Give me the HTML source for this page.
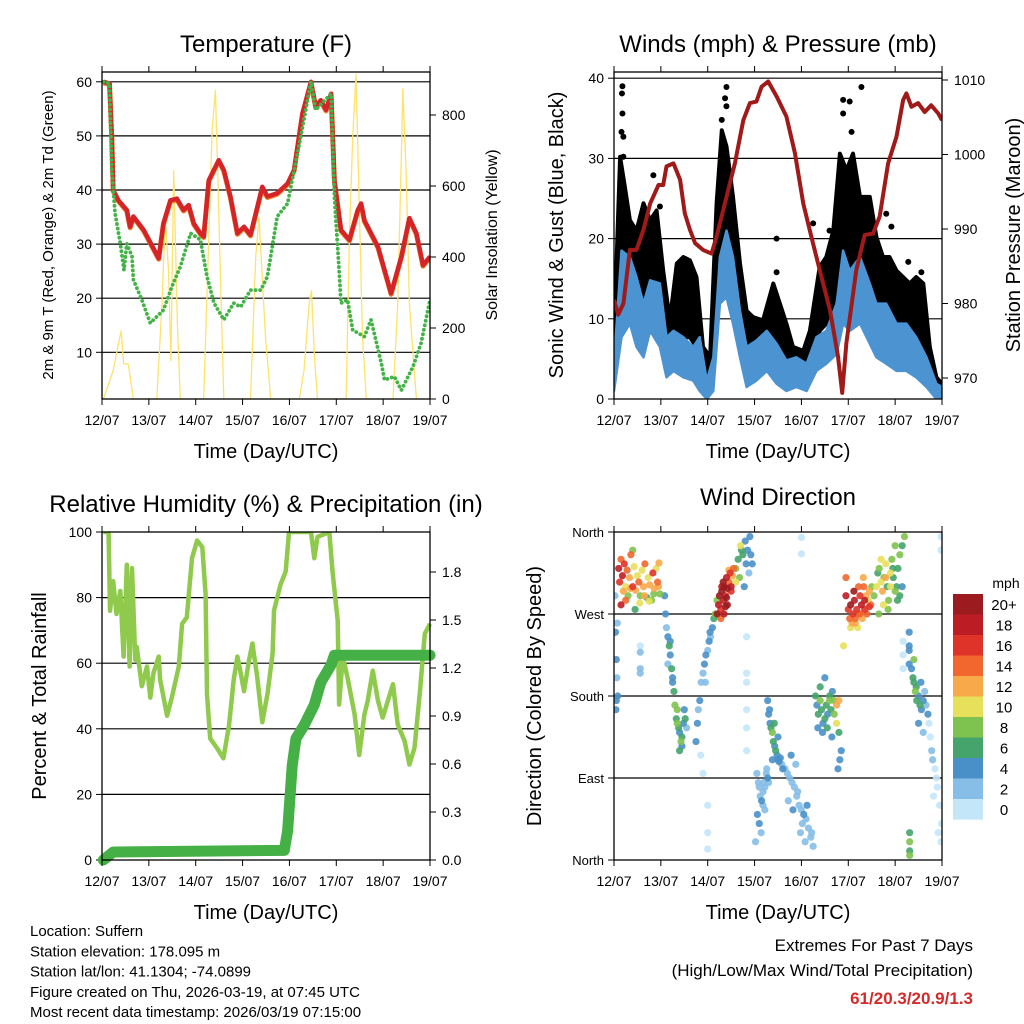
<!DOCTYPE html>
<html><head><meta charset="utf-8">
<style>
html,body{margin:0;padding:0;background:#fff;}
svg{display:block;font-family:"Liberation Sans",Arial,sans-serif;}
</style></head>
<body>
<svg id="fig" width="1024" height="1024" viewBox="0 0 1024 1024" xmlns="http://www.w3.org/2000/svg">
<rect width="1024" height="1024" fill="#fff"/>
<g id="layer"></g>
</svg>
<script>
// ---------- Data ----------
const dayLabels = ["12/07","13/07","14/07","15/07","16/07","17/07","18/07","19/07"];
const tempT = [0.03,0.16,0.21,0.24,0.35,0.53,0.6,0.67,0.89,1.21,1.31,1.46,1.6,1.74,1.85,1.96,2.1,2.17,2.28,2.49,2.6,2.74,2.89,3.03,3.17,3.42,3.53,3.74,3.96,4.1,4.28,4.46,4.56,4.67,4.78,4.89,4.96,5.1,5.28,5.46,5.53,5.6,5.89,6.17,6.39,6.56,6.71,6.85,7.0];
const tempV = [60,59.7,49.8,40,38.1,36.3,33.2,35.1,32.6,27.4,33.8,38.1,38.4,36.3,37.2,33.8,32,31.4,41.8,45.5,43.7,38.8,32,33.2,31.7,40.6,38.8,39.4,41.2,43.7,54.2,60,55.4,56.6,54.8,57.8,41.8,32.6,30.8,36.3,37.5,34.4,29.5,20.9,27.7,34.8,32,26.1,27.7];
const dewT = [0.03,0.16,0.21,0.28,0.39,0.47,0.53,0.6,0.64,0.67,0.85,1.03,1.31,1.49,1.67,1.89,2.1,2.24,2.39,2.6,2.81,2.96,3.17,3.39,3.53,3.74,3.96,4.24,4.46,4.56,4.89,4.96,5.06,5.1,5.24,5.35,5.6,5.74,5.96,6.03,6.24,6.39,6.64,6.81,7.0];
const dewV = [60,59.7,43.7,35.7,30.1,25.2,30.1,28.6,27.7,23.4,19.7,15.4,17.8,22.1,25.8,32,30.8,24,19.1,16,19.1,18.4,21.5,21.5,24,35.1,37.5,49.8,60,54.8,57.8,38.8,25.2,19.1,19.7,14.1,12.9,16,8,4.9,5.5,3,7.4,11.7,19.7];
const solarT = [0.03,0.24,0.35,0.41,0.46,0.56,0.67, 1.17,1.28,1.35,1.42,1.47,1.53,1.61,1.67, 2.17,2.28,2.35,2.42,2.47,2.53,2.6, 3.17,3.28,3.35,3.42,3.49,3.6, 4.21,4.31,4.42,4.47,4.53,4.6, 5.21,5.28,5.35,5.42,5.49,5.56,5.64, 6.21,6.31,6.39,6.42,6.49,6.56,6.71];
const solarV = [0,80,155,192,99,99,0, 0,268,512,361,108,643,211,0, 0,455,756,869,643,342,0, 0,399,512,343,173,0, 0,80,268,305,127,0, 0,455,737,915,549,174,0, 0,268,690,873,643,268,0];

const presT = [0,0.09,0.2,0.34,0.48,0.63,0.77,0.95,1.05,1.12,1.27,1.41,1.51,1.62,1.73,1.9,2.08,2.19,2.4,2.58,2.76,2.9,3.04,3.15,3.29,3.47,3.68,3.86,4.04,4.21,4.39,4.61,4.78,4.87,4.96,5.17,5.35,5.53,5.67,5.85,6.03,6.17,6.24,6.35,6.49,6.63,6.77,6.92,7.0];
const presV = [980.5,978.5,980,987.2,987.2,989.9,993.4,995.9,995.9,998.4,998.8,996.6,992.1,989.9,988.1,987.2,986.7,989,994.3,998.8,1004.6,1006.9,1007.1,1009.1,1009.8,1007.8,1005.1,1000.2,993.4,989,984.5,979.1,972.9,968,974.7,984.5,989.2,989.4,991.7,998.8,1002.4,1007.3,1008.2,1006.4,1006.9,1005.7,1006.6,1005.5,1004.6];
const windT = [0,0.16,0.34,0.48,0.63,0.77,0.98,1.12,1.27,1.48,1.69,1.83,1.98,2.12,2.26,2.4,2.54,2.69,2.83,3.04,3.26,3.47,3.68,3.89,4.11,4.32,4.53,4.75,4.89,5.03,5.25,5.46,5.6,5.81,6.03,6.24,6.45,6.67,6.88,7.0];
const windHi = [4.4,18.5,17.7,15.2,11.9,14.8,14.4,7.7,8.5,7.7,6.5,7.7,2.3,5.2,17.7,21,17.7,11,6.5,7.3,8.5,6.9,4.8,5.2,4.4,7.7,8.5,11.9,18.5,16,17.7,14.4,11.9,11.9,9.4,9.4,7.7,5.2,1.9,1.5];
const windLo = [1,7.7,9.4,6.5,5.2,8.5,6.5,2.7,3.5,2.7,2.3,1,0,1,11.9,12.7,9.4,5.2,1.5,2.3,3.5,1.9,1,1.5,1,3.5,4.4,5.6,9.4,8.5,9.4,6.9,5.2,4.4,3.5,3.5,2.7,1.5,0,0];
const gustT = [0,0.13,0.23,0.34,0.48,0.63,0.77,0.91,1.05,1.19,1.34,1.48,1.62,1.76,1.9,2.05,2.19,2.3,2.4,2.54,2.69,2.83,2.97,3.18,3.4,3.54,3.68,3.82,4.04,4.18,4.39,4.53,4.68,4.82,4.96,5.1,5.25,5.46,5.6,5.74,5.88,6.03,6.17,6.31,6.45,6.6,6.74,6.88,7.0];
const gustHi = [7.7,30.2,26.5,22.3,21,24.4,22.3,23.5,16,9.8,16.9,17.7,17.3,15.2,6.5,5.2,24.4,33.5,31.5,25.2,16.9,11,10.2,9.8,14.4,11.9,9.4,6.5,6,8.5,16.5,17.7,21,30.6,28.5,30.6,25.2,25.2,20.2,17.7,17.7,16,15.2,14.4,15.2,14.4,6.5,2.7,1.9];
const gustLo = [3.5,9.8,14,11.9,11.9,11,11.9,11.9,7.7,4.8,7.7,7.7,7.7,6.5,1.9,1,14,20.2,19.4,16,8.5,5.2,5.2,5.2,7.7,6.9,5.2,3.5,2.7,4.4,8.5,9.4,11.9,16,17.7,16,15.2,14,11.9,10.2,9.4,8.5,7.7,6.9,6.5,5.6,2.3,0.4,0.2];
const gustDotT = [0.18,0.17,0.18,0.16,0.2,0.2,0.84,0.98,2.4,2.37,2.4,2.3,3.47,3.47,4.89,5.03,4.89,5.28,5.07,4.25,5.81,5.92,6.28,6.56,4.6];
const gustDotV = [39,38.1,35.6,33.3,32.7,30.2,27.9,24,38.9,37.5,36.5,34.8,20,15.8,37.3,37.1,35.6,38.9,33.3,21.9,23.1,21.5,17.1,15.8,21];

const rhT = [0.03,0.14,0.17,0.24,0.31,0.39,0.46,0.53,0.59,0.64,0.71,0.74,0.85,0.96,1.03,1.1,1.21,1.24,1.39,1.49,1.64,1.71,1.81,1.92,2.03,2.14,2.21,2.24,2.31,2.46,2.59,2.71,2.81,2.89,2.96,3.03,3.14,3.21,3.31,3.42,3.53,3.64,3.67,3.81,3.92,3.99,4.46,4.53,4.6,4.85,4.92,5.03,5.06,5.14,5.24,5.39,5.49,5.6,5.67,5.78,5.89,5.99,6.1,6.21,6.31,6.46,6.56,6.67,6.78,6.89,7.0];
const rhV = [100,100,76,85,75,82,62,90,59,89,61,65,53,59,49.5,57,62,55,44,49.5,59,72,74,92,97.4,95.4,81,50.5,37,34,31,41,55,62,57,51.5,61,66,56,42,50.5,63,76,84,88,100,100,92,98.5,100,88,73,47.4,62,55.6,44.4,32,44.4,48.5,57.7,48.5,43.4,48.5,53.6,41.3,36.2,29.1,34.2,50.5,69,72];
const precipT = [0.03,0.24,3.89,3.96,4.06,4.14,4.31,4.53,4.67,4.89,4.96,7.0];
const precipV = [0,0.05,0.06,0.18,0.59,0.76,0.84,0.97,1.11,1.22,1.28,1.28];

const dirT = [0.10,0.12,0.15,0.18,0.2,0.22,0.25,0.28,0.3,0.33,0.36,0.4,0.43,0.46,0.5,0.53,0.56,0.6,0.63,0.66,0.7,0.73,0.76,0.8,0.83,0.86,0.9,0.93,0.96,0.98,0.15,0.25,0.35,0.45,0.55,0.65,0.75,0.85,0.95,0.4,
0.02,0.03,0.05,0.06,0.08,0.04,0.05,0.07,0.56,0.56,0.56,0.56,
1.08,1.1,1.12,1.15,1.18,1.2,1.23,1.25,1.28,1.3,1.33,1.35,1.38,1.4,1.43,1.45,1.48,1.5,1.52,1.55,1.15,1.25,1.35,1.45,1.2,1.4,
1.75,1.78,1.8,1.83,1.86,1.9,1.93,1.96,2.0,2.03,2.06,2.1,2.13,2.16,2.2,1.85,1.95,2.05,1.9,2.0,2.0,2.0,
2.2,2.23,2.25,2.28,2.3,2.33,2.35,2.38,2.4,2.42,2.45,2.48,2.5,2.53,2.55,2.28,2.35,2.42,2.5,2.33,2.4,2.3,2.45,2.38,
2.6,2.65,2.7,2.75,2.8,2.85,2.9,2.95,2.68,2.78,2.88,2.72,2.82,2.92,2.6,
2.83,2.83,2.83,2.83,2.83,2.83,
3.28,3.3,3.33,3.35,3.38,3.4,3.43,3.45,3.48,3.5,3.52,3.55,3.58,3.6,3.32,3.42,3.5,3.38,
3.05,3.08,3.1,3.12,3.15,3.18,3.2,3.22,3.25,3.28,3.3,3.06,3.1,3.14,3.18,3.22,3.26,3.02,
3.65,3.7,3.75,3.8,3.85,3.9,3.95,4.0,4.05,4.1,4.15,4.2,4.25,3.72,3.82,3.92,4.02,4.12,4.22,3.78,3.88,3.98,4.08,4.0,4.0,
4.3,4.33,4.36,4.4,4.43,4.46,4.5,4.53,4.56,4.6,4.63,4.66,4.7,4.75,4.8,4.85,4.4,4.5,4.6,4.7,4.78,4.82,4.35,4.45,4.55,4.65,4.75,4.8,
4.95,5.0,5.03,5.05,5.08,5.1,5.13,5.15,5.18,5.2,5.23,5.25,5.28,5.3,5.33,5.35,5.38,5.4,5.43,5.45,5.48,5.5,5.05,5.15,5.25,5.35,5.45,5.12,5.22,5.32,4.9,4.95,
5.55,5.6,5.63,5.66,5.7,5.73,5.76,5.8,5.83,5.86,5.9,5.93,5.96,6.0,6.03,6.06,6.1,6.15,6.2,5.65,5.75,5.85,5.95,6.05,5.7,5.8,5.9,6.0,6.1,6.15,
6.17,6.17,6.17,6.3,6.3,6.3,6.3,
6.35,6.38,6.4,6.43,6.46,6.5,6.53,6.56,6.6,6.63,6.66,6.7,6.4,6.5,6.6,6.45,6.55,
6.72,6.75,6.8,6.85,6.9,6.95,6.99,6.78,6.88,6.98,6.82,6.92,
6.31,6.31,6.31,6.31,6.98,6.98];
const dirV = [320,305,330,312,295,325,300,318,290,310,335,300,322,296,312,305,290,318,300,325,288,310,302,285,315,298,320,305,326,292,280,285,298,275,282,290,284,292,300,340,
290,250,220,200,180,165,175,260,235,228,210,205,
290,270,255,245,235,225,210,200,185,170,155,150,145,140,130,135,150,165,155,145,215,195,165,125,240,120,
130,150,165,175,195,205,215,225,230,240,245,255,265,270,285,115,195,250,95,60,30,12,
270,280,290,275,295,285,300,290,310,298,305,315,300,312,320,265,270,280,295,305,288,300,318,278,
320,330,345,335,350,340,355,325,310,300,315,340,325,335,305,
245,205,195,165,145,120,
175,160,150,145,140,130,125,120,115,110,108,112,105,100,165,150,135,110,
95,85,80,70,65,75,85,80,95,90,85,50,40,30,60,55,100,20,
100,95,90,85,80,70,60,55,50,45,35,25,15,65,55,75,40,60,30,115,105,30,20,354,336,
180,170,160,175,165,150,155,170,160,175,165,185,175,150,140,120,190,200,180,160,100,110,145,140,145,135,170,175,
290,275,265,280,260,270,285,265,275,255,270,290,280,265,300,275,290,270,285,295,280,300,255,260,270,285,278,295,300,310,235,310,
290,300,315,320,305,295,310,325,300,285,315,330,310,295,300,320,335,345,355,270,280,275,320,285,330,310,300,345,290,300,
240,225,210,250,230,215,235,
210,200,195,185,175,180,170,165,175,185,170,160,220,150,140,190,195,
150,135,110,100,80,60,40,120,90,20,70,30,
30,20,10,5,355,340];
const dirS = [18,16,14,18,12,16,10,14,8,12,14,16,10,12,10,14,8,10,12,14,6,10,12,8,16,12,10,14,12,8,18,14,12,6,10,12,10,8,12,8,
2,4,4,2,4,4,4,2,0,1,2,1,
4,4,2,4,6,4,6,4,6,8,6,8,6,4,8,6,4,4,6,2,2,4,8,4,4,6,
4,4,2,4,2,2,4,4,2,4,2,4,6,8,8,0,2,4,0,0,0,0,
20,18,20,16,20,18,20,16,18,20,14,16,18,12,14,14,18,20,16,20,20,18,12,20,
8,6,10,6,4,4,4,4,8,4,2,6,4,4,10,
0,0,0,0,0,0,
4,4,4,6,8,6,4,6,4,4,4,4,2,4,4,6,4,4,
2,2,2,2,4,2,2,2,2,4,2,4,4,2,2,2,2,2,
2,2,2,2,2,2,2,2,4,2,2,2,2,2,4,2,2,4,2,4,2,2,2,0,0,
6,4,6,8,6,4,6,6,4,8,6,4,8,10,6,4,6,4,6,8,4,4,4,4,6,4,12,12,
18,16,14,20,12,16,18,14,16,10,14,16,18,12,14,16,12,14,10,12,14,8,10,12,14,18,16,20,14,12,10,14,
8,10,6,8,10,12,8,10,6,8,10,8,6,8,6,6,8,6,8,8,10,8,6,6,10,12,10,8,6,4,
0,0,0,4,4,4,4,
4,6,6,8,6,4,6,4,4,2,2,4,8,4,2,6,4,
0,0,2,0,0,0,0,2,0,0,0,0,
6,8,6,8,0,0];
const cbarLabels = ["20+","18","16","14","12","10","8","6","4","2","0"];
const cbarColors = ["#9b1b1e","#bc1d24","#df3329","#f1672d","#f8a94a","#e7e05b","#7ec24f","#45a46b","#4a90c8","#86bee7","#c3e6f8"];

// ---------- Helpers ----------
const NS="http://www.w3.org/2000/svg";
const layer=document.getElementById('layer');
function mk(tag,attrs,parent){const e=document.createElementNS(NS,tag);for(const k in attrs)e.setAttribute(k,attrs[k]);(parent||layer).appendChild(e);return e;}
function txt(x,y,s,size,anchor,extra,name,parent){const e=mk('text',Object.assign({x:x,y:y,'font-size':size,'text-anchor':anchor||'middle',fill:'#000'},extra||{}),parent);e.textContent=s;


return e;}
function path(pts){return pts.map((p,i)=>(i?'L':'M')+p[0].toFixed(1)+','+p[1].toFixed(1)).join('');}

const panels={
 temp:{x0:102,x1:430,y0:72,y1:399},
 wind:{x0:614,x1:942,y0:72,y1:399},
 rh:{x0:102,x1:430,y0:532,y1:860},
 dir:{x0:614,x1:942,y0:532,y1:860}
};
function xs(p,t){return p.x0+t*(p.x1-p.x0)/7;}

function frame(p,name){
  const g=mk('g',{});
  
  
  return g;
}
function border(p,g){
  const r=mk('rect',{x:p.x0,y:p.y0,width:p.x1-p.x0,height:p.y1-p.y0,fill:'none',stroke:'#000','stroke-width':1.3},g);
  
  
  // x ticks
  for(let d=0;d<=7;d++){
    const x=xs(p,d);
    mk('line',{x1:x,x2:x,y1:p.y1,y2:p.y1+6,stroke:'#000','stroke-width':1},g);
    mk('line',{x1:x,x2:x,y1:p.y0,y2:p.y0-6,stroke:'#000','stroke-width':1},g);
    txt(x,p.y1+26,dayLabels[d],14,'middle',{},'x-tick-label',g);
  }
  txt((p.x0+p.x1)/2,p.y1+59,'Time (Day/UTC)',20,'middle',{},'x-axis-title',g);
}
function hgrid(p,y,g,col){const l=mk('line',{x1:p.x0,x2:p.x1,y1:y,y2:y,stroke:col||'#000','stroke-width':1.2},g);}
function ytickL(p,y,s,g,size){mk('line',{x1:p.x0-6,x2:p.x0,y1:y,y2:y,stroke:'#000'},g);txt(p.x0-10,y+5,s,size||14,'end',{},'y-tick-label',g);}
function ytickR(p,y,s,g,size){mk('line',{x1:p.x1,x2:p.x1+6,y1:y,y2:y,stroke:'#000'},g);txt(p.x1+12,y+5,s,size||14,'start',{},'y2-tick-label',g);}
function vtitle(x,y,s,size,name,g){const e=txt(x,y,s,size,'middle',{transform:`rotate(-90 ${x} ${y})`},name,g);return e;}

// ---------- Panel 1: Temperature ----------
(function(){
 const p=panels.temp;const g=frame(p,'temperature-panel');
 const ty=v=>406.4-v*5.41, sy=s=>399-s*0.355;
 const cp=mk('clipPath',{id:'c1'},g);mk('rect',{x:p.x0,y:p.y0,width:p.x1-p.x0,height:p.y1-p.y0},cp);
 [10,20,30,40,50,60].forEach(v=>{hgrid(p,ty(v),g);ytickL(p,ty(v),String(v),g);});
 [0,200,400,600,800].forEach(v=>ytickR(p,sy(v),String(v),g));
 const inner=mk('g',{'clip-path':'url(#c1)'},g);
 const sol=mk('path',{d:path(solarT.map((t,i)=>[xs(p,t),sy(solarV[i])])),fill:'none',stroke:'#fde36a','stroke-width':1.3,'stroke-linejoin':'round'},inner);
 
 const o=mk('path',{d:path(tempT.map((t,i)=>[xs(p,t),ty(tempV[i])+1])),fill:'none',stroke:'#f07f2a','stroke-width':5,'stroke-linejoin':'round'},inner);
 
 const r=mk('path',{d:path(tempT.map((t,i)=>[xs(p,t),ty(tempV[i])])),fill:'none',stroke:'#d42427','stroke-width':4.5,'stroke-linejoin':'round'},inner);
 
 const d=mk('path',{d:path(dewT.map((t,i)=>[xs(p,t),ty(dewV[i])])),fill:'none',stroke:'#43b347','stroke-width':3.8,'stroke-linecap':'round','stroke-dasharray':'0.1 4.5'},inner);
 
 border(p,g);
 txt(266,52,'Temperature (F)',24,'middle',{},'temperature-title',g);
 vtitle(53,235,'2m & 9m T (Red, Orange) & 2m Td (Green)',15,'temperature-y-axis-title',g);
 vtitle(497,235,'Solar Insolation (Yellow)',16,'solar-y-axis-title',g);
})();

// ---------- Panel 2: Winds ----------
(function(){
 const p=panels.wind;const g=frame(p,'winds-panel');
 const wy=v=>399-v*8.02, py=m=>80+(1010-m)*7.45;
 const cp=mk('clipPath',{id:'c2'},g);mk('rect',{x:p.x0,y:p.y0,width:p.x1-p.x0,height:p.y1-p.y0},cp);
 [10,20,30,40].forEach(v=>hgrid(p,wy(v),g));
 [0,10,20,30,40].forEach(v=>ytickL(p,wy(v),String(v),g));
 [970,980,990,1000,1010].forEach(v=>ytickR(p,py(v),String(v),g));
 const inner=mk('g',{'clip-path':'url(#c2)'},g);
 const gb=windBand(gustT,gustHi,gustLo);
 const gbp=mk('path',{d:gb,fill:'#000',stroke:'#000','stroke-width':4,'stroke-linejoin':'round'},inner);
 
 gustDotT.forEach((t,i)=>{const c=mk('circle',{cx:xs(p,t),cy:wy(gustDotV[i]),r:3,fill:'#000'},inner);
  });
 const wb=mk('path',{d:windBand(windT,windHi,windLo),fill:'#4b93d1',stroke:'#4b93d1','stroke-width':2.5,'stroke-linejoin':'round'},inner);
 
 const pr=mk('path',{d:path(presT.map((t,i)=>[xs(p,t),py(presV[i])])),fill:'none',stroke:'#a01a1a','stroke-width':4,'stroke-linejoin':'round'},inner);
 
 border(p,g);
 txt(778,52,'Winds (mph) & Pressure (mb)',24,'middle',{},'winds-title',g);
 vtitle(563,235,'Sonic Wind & Gust (Blue, Black)',20,'wind-y-axis-title',g);
 vtitle(1020,235,'Station Pressure (Maroon)',20,'pressure-y-axis-title',g);
 function windBand(T,H,L){const top=T.map((t,i)=>[xs(p,t),wy(H[i])]);const bot=T.map((t,i)=>[xs(p,t),wy(L[i])]).reverse();return path(top.concat(bot))+'Z';}
})();

// ---------- Panel 3: RH & Precip ----------
(function(){
 const p=panels.rh;const g=frame(p,'humidity-panel');
 const ry=v=>860-v*3.28, qy=v=>860-v*160;
 const cp=mk('clipPath',{id:'c3'},g);mk('rect',{x:p.x0-8,y:p.y0,width:p.x1-p.x0+16,height:p.y1-p.y0+8},cp);
 [20,40,60,80].forEach(v=>hgrid(p,ry(v),g));
 [0,20,40,60,80,100].forEach(v=>ytickL(p,ry(v),String(v),g));
 [0,0.3,0.6,0.9,1.2,1.5,1.8].forEach(v=>ytickR(p,qy(v),v.toFixed(1),g));
 const inner=mk('g',{'clip-path':'url(#c3)'},g);
 const rh=mk('path',{d:path(rhT.map((t,i)=>[xs(p,t),ry(rhV[i])])),fill:'none',stroke:'#8fca4d','stroke-width':4.5,'stroke-linejoin':'round'},inner);
 
 const pc=mk('path',{d:path(precipT.map((t,i)=>[xs(p,t),qy(precipV[i])])),fill:'none',stroke:'#44b045','stroke-width':11,'stroke-linejoin':'round','stroke-linecap':'round'},inner);
 
 border(p,g);
 txt(266,512,'Relative Humidity (%) & Precipitation (in)',24,'middle',{},'humidity-title',g);
 vtitle(46,696,'Percent & Total Rainfall',20,'humidity-y-axis-title',g);
})();

// ---------- Panel 4: Wind Direction ----------
(function(){
 const p=panels.dir;const g=frame(p,'wind-direction-panel');
 const dy=d=>860-d*(328/360);
 const cp=mk('clipPath',{id:'c4'},g);mk('rect',{x:p.x0,y:p.y0,width:p.x1-p.x0,height:p.y1-p.y0},cp);
 [90,180,270].forEach(v=>hgrid(p,dy(v),g));
 [[360,'North'],[270,'West'],[180,'South'],[90,'East'],[0,'North']].forEach(a=>ytickL(p,dy(a[0]),a[1],g,13));
 const inner=mk('g',{'clip-path':'url(#c4)'},g);
 function col(s){let i=Math.round(s/2);if(i>10)i=10;if(i<0)i=0;return cbarColors[10-i];}
 const order=dirT.map((t,i)=>i).sort((a,b)=>dirS[a]-dirS[b]);
 order.forEach(i=>{const c=mk('circle',{cx:xs(p,dirT[i]),cy:dy(dirV[i]),r:3.6,fill:col(dirS[i]),'fill-opacity':0.9},inner);
  });
 border(p,g);
 txt(778,505,'Wind Direction',24,'middle',{},'wind-direction-title',g);
 vtitle(541,696,'Direction (Colored By Speed)',20,'direction-y-axis-title',g);
 // colorbar
 const cb=mk('g',{},g);
 
 txt(1006,588,'mph',14,'middle',{},'colorbar-unit',cb);
 cbarColors.forEach((c,i)=>{const y=594+i*20.5;mk('rect',{x:953,y:y,width:30,height:20.6,fill:c},cb);
  txt(1004,y+16,cbarLabels[i],15,'middle',{},'colorbar-label',cb);});
})();

// ---------- Footer ----------
const foot=mk('g',{});

["Location: Suffern","Station elevation: 178.095 m","Station lat/lon: 41.1304; -74.0899","Figure created on Thu, 2026-03-19, at 07:45 UTC","Most recent data timestamp: 2026/03/19 07:15:00"].forEach((s,i)=>txt(30,936+i*20.3,s,15,'start',{},'station-info-line',foot));
const ext=mk('g',{});

txt(973,951,'Extremes For Past 7 Days',17,'end',{},'extremes-title',ext);
txt(973,976,'(High/Low/Max Wind/Total Precipitation)',17,'end',{},'extremes-subtitle',ext);
txt(973,1004,'61/20.3/20.9/1.3',17,'end',{fill:'#d42a2a','font-weight':'bold'},'extremes-values',ext);
</script>
</body></html>
